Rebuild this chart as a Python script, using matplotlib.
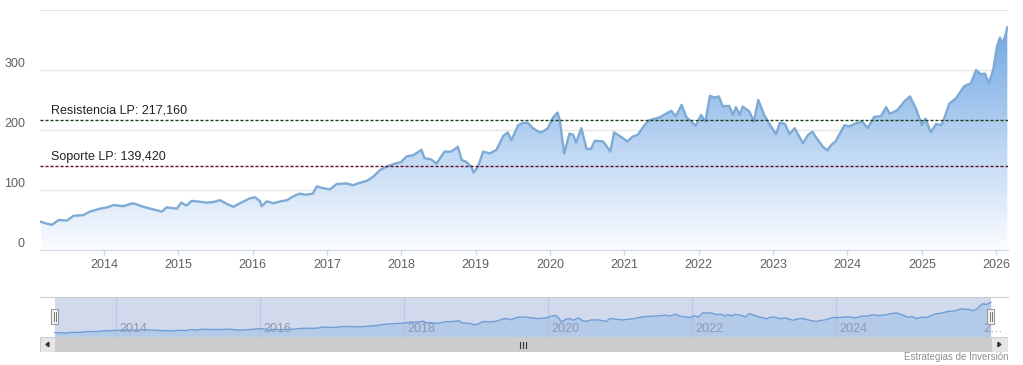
import matplotlib
matplotlib.use('Agg')
import matplotlib.pyplot as plt
import numpy as np
from matplotlib.patches import Rectangle
from matplotlib.transforms import offset_copy

plt.rcParams['font.family'] = ['Liberation Sans', 'DejaVu Sans']

W, H = 1023, 365

# price series (decimal year, value)
years = [2013.15, 2013.23, 2013.30, 2013.39, 2013.50, 2013.59, 2013.72, 2013.81, 2013.95,
         2014.04, 2014.13, 2014.26, 2014.39, 2014.53, 2014.62, 2014.78, 2014.84, 2014.98,
         2015.04, 2015.11, 2015.18, 2015.38, 2015.47, 2015.56, 2015.65, 2015.74, 2015.83, 2015.96,
         2016.03, 2016.10, 2016.12, 2016.19, 2016.28, 2016.37, 2016.46, 2016.54, 2016.63, 2016.71,
         2016.81, 2016.86, 2016.95, 2017.04, 2017.13, 2017.26, 2017.35, 2017.44, 2017.53, 2017.62,
         2017.71, 2017.80, 2017.89, 2018.00, 2018.07, 2018.16, 2018.27, 2018.31, 2018.40, 2018.47,
         2018.58, 2018.67, 2018.76, 2018.81, 2018.87, 2018.94, 2018.97, 2019.03, 2019.10, 2019.19,
         2019.28, 2019.37, 2019.43, 2019.48, 2019.57, 2019.64, 2019.70, 2019.77, 2019.86, 2019.91,
         2019.97, 2020.04, 2020.10, 2020.13, 2020.15, 2020.19, 2020.26, 2020.31, 2020.35, 2020.42,
         2020.49, 2020.55, 2020.60, 2020.71, 2020.75, 2020.81, 2020.86, 2020.95, 2021.04, 2021.11,
         2021.18, 2021.27, 2021.33, 2021.47, 2021.63, 2021.69, 2021.77, 2021.83, 2021.90, 2021.96,
         2022.03, 2022.09, 2022.15, 2022.21, 2022.27, 2022.32, 2022.41, 2022.46, 2022.50, 2022.55,
         2022.59, 2022.68, 2022.74, 2022.80, 2022.88, 2022.96, 2023.04, 2023.09, 2023.16, 2023.22,
         2023.29, 2023.40, 2023.47, 2023.53, 2023.57, 2023.67, 2023.73, 2023.78, 2023.84, 2023.96,
         2024.02, 2024.11, 2024.20, 2024.27, 2024.36, 2024.45, 2024.52, 2024.57, 2024.67, 2024.76,
         2024.84, 2024.92, 2025.00, 2025.05, 2025.12, 2025.19, 2025.26, 2025.30, 2025.37, 2025.46,
         2025.57, 2025.66, 2025.73, 2025.79, 2025.85, 2025.90, 2025.96, 2026.01, 2026.05, 2026.08,
         2026.12, 2026.15]
values = [47, 44, 42, 50, 49, 57, 58, 64, 69,
          71, 75, 73, 78, 72, 69, 64, 71, 69,
          79, 74, 82, 79, 80, 83, 77, 72, 78, 86,
          88, 81, 73, 81, 78, 81, 83, 89, 94, 92,
          94, 106, 103, 101, 110, 111, 108, 112, 115, 122,
          133, 139, 143, 147, 156, 158, 167, 153, 151, 144,
          164, 164, 172, 150, 147, 139, 129, 139, 164, 161,
          167, 190, 196, 183, 208, 212, 212, 203, 196, 198,
          203, 221, 229, 217, 197, 161, 194, 192, 179, 203,
          169, 168, 182, 181, 175, 164, 196, 189, 181, 189,
          192, 208, 216, 221, 232, 223, 242, 222, 214, 207,
          225, 214, 257, 254, 256, 240, 240, 225, 238, 225,
          239, 231, 214, 250, 225, 208, 193, 212, 210, 193,
          203, 178, 192, 197, 189, 172, 166, 175, 181, 208,
          206, 211, 214, 203, 222, 223, 238, 227, 233, 247,
          256, 236, 208, 219, 196, 210, 208, 219, 244, 253,
          273, 278, 300, 293, 294, 278, 300, 339, 354, 344,
          356, 371]

resistencia = 217.160
soporte = 139.420
y_ticks = [0, 100, 200, 300, 400]
y_labels = ['0', '100', '200', '300', '']
x_ticks = list(range(2014, 2027))
nav_ticks = [2014, 2016, 2018, 2020, 2022, 2024, 2026]
nav_labels = ['2014', '2016', '2018', '2020', '2022', '2024', '2\u2026']


def box(l, t, r, b):
    return [l / W, 1 - b / H, (r - l) / W, (b - t) / H]


fig = plt.figure(figsize=(W / 100, H / 100), dpi=100)

# ---- main chart ----
ax = fig.add_axes(box(40, 10, 1008, 250))
for s in ax.spines.values():
    s.set_visible(False)
ax.spines['bottom'].set_visible(True)
ax.spines['bottom'].set_color('#ccd6eb')

# gradient area under the line
poly = ax.fill_between(years, values, 0, facecolor='none', edgecolor='none')
g = np.linspace(0, 1, 256)[:, None, None]
top = np.array([0.45, 0.66, 0.89])
bot = np.array([0.985, 0.99, 1.0])
img = bot + (top - bot) * g
im = ax.imshow(img, extent=[years[0], years[-1], 0, max(values)], origin='lower',
               aspect='auto', zorder=1, interpolation='bilinear')
im.set_clip_path(poly.get_paths()[0], transform=ax.transData)
ax.plot(years, values, color='#7eaad6', lw=1.7, zorder=3, solid_joinstyle='round')

ax.set_xlim(2013.139, 2026.159)
ax.set_ylim(0, 400)

ax.set_yticks(y_ticks)
ax.yaxis.grid(True, color='#e6e6e6', lw=1)
ax.set_axisbelow(True)
ax.tick_params(axis='y', length=0, labelleft=False)
ytr = offset_copy(ax.get_yaxis_transform(), fig=fig, y=6, units='dots')
for v, lab in zip(y_ticks, y_labels):
    ax.text(-15 / 968, v, lab, transform=ytr, ha='right', va='center',
            fontsize=9, color='#606060')

ax.set_xticks(x_ticks)
ax.set_xticklabels([str(t) for t in x_ticks])
ax.tick_params(axis='x', length=3.6, width=1, color='#ccd6eb', labelsize=9,
               labelcolor='#606060', pad=3.2)

# support / resistance
ax.axhline(resistencia, color='#1a401a', lw=1, ls=(0, (2.2, 1.4)), zorder=4)
ax.axhline(soporte, color='#5e0f28', lw=1, ls=(0, (2.2, 1.4)), zorder=4)
ttr = offset_copy(ax.get_yaxis_transform(), fig=fig, y=3, units='dots')
ax.text(11 / 968, resistencia, 'Resistencia LP: ' + f'{resistencia:.3f}'.replace('.', ','),
        transform=ttr, fontsize=9, color='#222222', va='bottom', zorder=5)
ax.text(11 / 968, soporte, 'Soporte LP: ' + f'{soporte:.3f}'.replace('.', ','),
        transform=ttr, fontsize=9, color='#222222', va='bottom', zorder=5)

# ---- navigator ----
nav = fig.add_axes(box(40, 297, 1008, 337))
nav.set_xlim(2012.944, 2026.389)
nav.set_ylim(0, 425)
for s in nav.spines.values():
    s.set_visible(False)
nav.spines['top'].set_visible(True)
nav.spines['top'].set_color('#cccccc')
nav.set_xticks([])
nav.set_yticks([])
nav.axvspan(years[0], years[-1], color='#d1daed', zorder=0, lw=0)
for t in nav_ticks[:-1]:
    nav.axvline(t, color='#bcc6dc', lw=0.8, zorder=1)
nav.fill_between(years, values, 0, color='#9dbde6', alpha=0.55, lw=0, zorder=2)
nav.plot(years, values, color='#6f9dd6', lw=1, zorder=3)
ltr = offset_copy(nav.get_xaxis_transform(), fig=fig, x=3, units='dots')
for t, lab in zip(nav_ticks, nav_labels):
    nav.text(t, 0.2, lab, transform=ltr, fontsize=9, color='#8f99ad',
             ha='left', va='center', zorder=4)
# handles
px = (nav.get_xlim()[1] - nav.get_xlim()[0]) / 968
for xh in (years[0], years[-1]):
    nav.add_patch(Rectangle((xh - 3.5 * px, 0.32), 7 * px, 0.38,
                            transform=nav.get_xaxis_transform(), facecolor='#f2f2f2',
                            edgecolor='#999999', lw=0.8, zorder=6, clip_on=False))
    for dx in (-1, 1):
        nav.plot([xh + dx * px, xh + dx * px], [0.4, 0.62], color='#777777', lw=0.7,
                 transform=nav.get_xaxis_transform(), zorder=7, clip_on=False)

# ---- scrollbar ----
sb = fig.add_axes(box(40, 337, 1008, 352))
sb.set_xlim(nav.get_xlim())
sb.set_ylim(0, 1)
sb.axis('off')
sb.axvspan(years[0], years[-1], color='#cccccc', lw=0)
x0, x1 = sb.get_xlim()
sb.add_patch(Rectangle((x0, 0), years[0] - x0, 1, facecolor='#e6e6e6', edgecolor='#cccccc', lw=0.8))
sb.add_patch(Rectangle((years[-1], 0), x1 - years[-1], 1, facecolor='#e6e6e6', edgecolor='#cccccc', lw=0.8))
cl = (x0 + years[0]) / 2
cr = (years[-1] + x1) / 2
sb.fill([cl + 1.5 * px, cl - 1.5 * px, cl + 1.5 * px], [0.35, 0.5, 0.65], color='#333333')
sb.fill([cr - 1.5 * px, cr + 1.5 * px, cr - 1.5 * px], [0.35, 0.5, 0.65], color='#333333')
mid = (years[0] + years[-1]) / 2
for dx in (-3, 0, 3):
    sb.plot([mid + dx * px, mid + dx * px], [0.3, 0.7], color='#333333', lw=0.8)

fig.text(1008 / W, 1 - 357 / H, 'Estrategias de Inversi\u00f3n', ha='right', va='center',
         fontsize=7, color='#909090')

fig.savefig('out.png', dpi=100)
